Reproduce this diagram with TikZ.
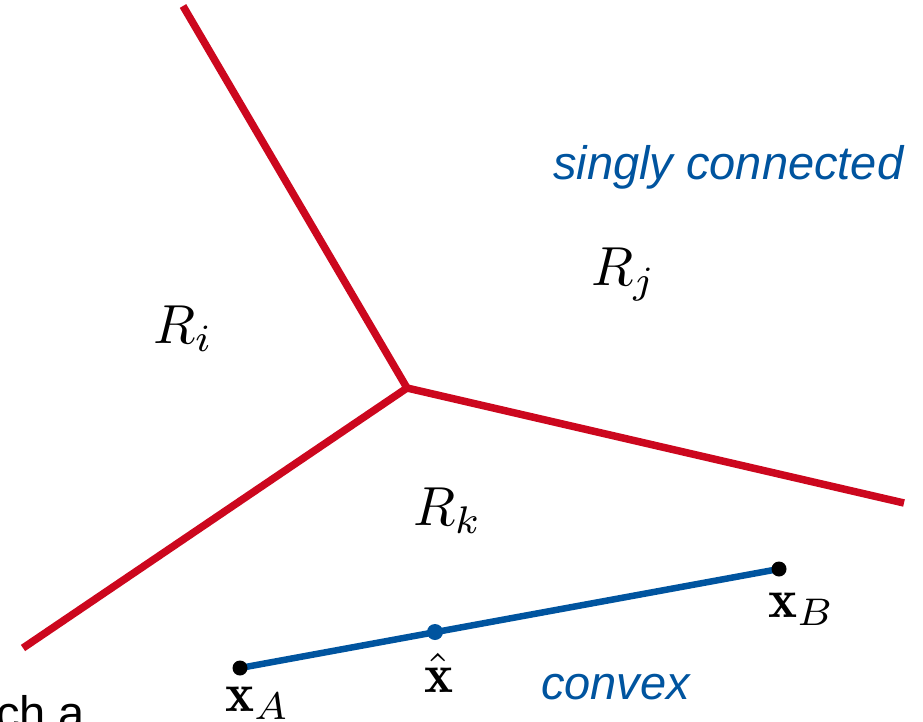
\documentclass[tikz,border=0pt]{standalone}
\usepackage{fontspec}
\setsansfont{Liberation Sans}
\definecolor{rwthred}{RGB}{204,7,30}
\definecolor{rwthblue}{RGB}{0,84,159}
\begin{document}
\begin{tikzpicture}[x=1pt,y=-1pt,
  boundary/.style={draw=rwthred,line width=7.5pt},
  segment/.style={draw=rwthblue,line width=6.5pt},
  mathlbl/.style={anchor=base west,inner sep=0pt,scale=5.5,font=\normalsize},
  txtlbl/.style={anchor=base west,inner sep=0pt,text=rwthblue,font=\fontsize{47}{56}\sffamily\itshape},
  plaintxt/.style={anchor=base west,inner sep=0pt,font=\fontsize{47}{56}\sffamily},
  enddot/.style={circle,fill=black,inner sep=0pt,minimum size=15pt},
  middot/.style={circle,fill=rwthblue,inner sep=0pt,minimum size=16pt}]
\useasboundingbox (0,0) rectangle (923,722);
\clip (0,0) rectangle (923,722);
% boundaries
\coordinate (J) at (407,388);
\coordinate (T) at (183,6);
\coordinate (L) at (23,648);
\coordinate (Rt) at (904,503);
\draw[boundary] (T) -- (J);
\draw[boundary] (J) -- (L);
\draw[boundary] (J) -- (Rt);
% segment
\coordinate (A) at (240,668);
\coordinate (B) at (779,569);
\draw[segment] (A) -- (B);
\node[enddot] (dA) at (A) {};
\node[enddot] (dB) at (B) {};
\node[middot] (dX) at (435,632) {};
% labels
\node[mathlbl] (Ri) at (152,343) {$R_i$};
\node[mathlbl] (Rj) at (590,285) {$R_j$};
\node[mathlbl] (Rk) at (412,525) {$R_k$};
\node[mathlbl] (xA) at (224,711) {$\mathbf{x}_A$};
\node[mathlbl] (xh) at (423,692) {$\hat{\mathbf{x}}$};
\node[mathlbl] (xB) at (767,617) {$\mathbf{x}_B$};
\node[txtlbl] (sc) at (553,179) {singly connected};
\node[txtlbl] (cv) at (541,699) {convex};
\node[plaintxt] (cut) at (-4,729) {ch a};
\end{tikzpicture}
\end{document}
